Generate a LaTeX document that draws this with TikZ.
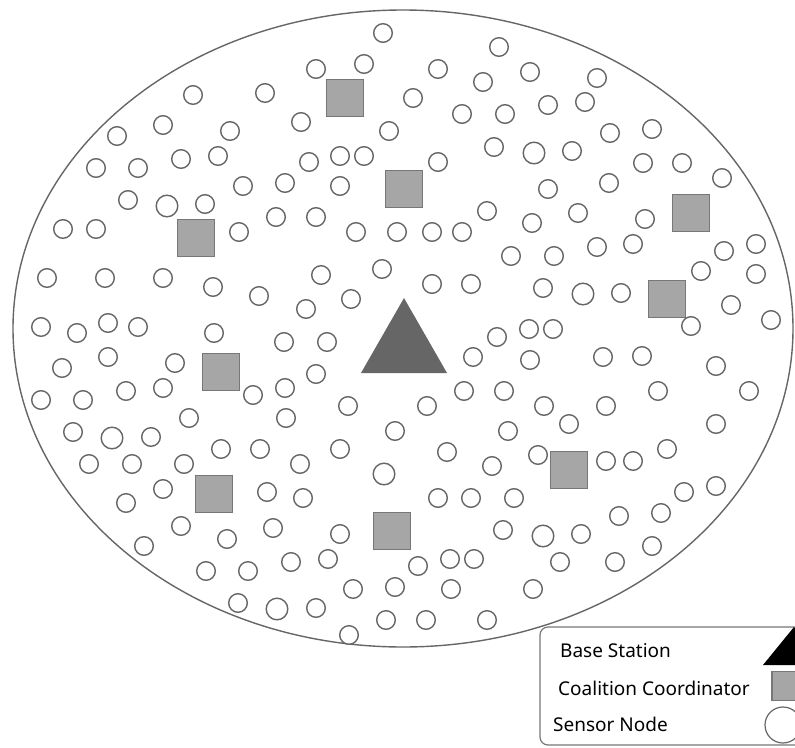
\documentclass[tikz,border=0pt]{standalone}
\usepackage{fontspec}
\setmainfont{Noto Sans}
\definecolor{edgegray}{HTML}{666666}
\definecolor{boxgray}{HTML}{A6A6A6}
\definecolor{boxedge}{HTML}{777777}
\tikzset{
  sensor/.style={circle,draw=edgegray,line width=1.4pt,fill=white,minimum size=18.6pt,inner sep=0pt},
  bigsensor/.style={sensor,minimum size=21.6pt},
  coordbox/.style={rectangle,draw=boxedge,line width=1.4pt,fill=boxgray,minimum size=37pt,inner sep=0pt},
  legendtext/.style={anchor=base west,inner sep=0pt,font=\fontsize{19}{22}\selectfont}
}
\begin{document}
\begin{tikzpicture}[x=1pt,y=-1pt]
\useasboundingbox (0,0) rectangle (795,747);
\clip (0,0) rectangle (795,747);
% field
\draw[edgegray,line width=1.4pt] (403,328.5) ellipse [x radius=390, y radius=318.5];
% sensor nodes
\foreach \px/\py [count=\i] in {193/95, 265/93, 163/125, 117/136, 230/131, 96/168, 138/168, 181/159, 218/156, 243/186, 128/200, 205/204, 63/229, 96/229, 239/232, 47/278, 105/278, 163/278, 213/287, 259/296, 41/327, 77/333, 108/323, 138/327, 214/333, 62/368, 108/357, 175/363, 41/400, 83/400, 126/391, 163/388, 253/395, 189/418, 73/432, 151/437, 221/449, 260/449, 89/464, 132/464, 184/464, 163/489, 126/503, 267/492, 181/526, 227/539, 144/546, 206/571, 248/571, 238/603, 291/562, 328/559, 418/566, 450/559, 474/559, 353/589, 395/587, 451/589, 533/589, 316/608, 386/620, 426/620, 487/620, 349/635, 560/562, 615/562, 285/388, 348/406, 427/406, 464/391, 504/391, 286/418, 395/431, 508/431, 340/449, 447/452, 300/464, 492/466, 303/498, 438/498, 471/498, 514/498, 273/528, 340/534, 503/530, 658/391, 749/391, 544/406, 606/406, 569/424, 716/424, 538/455, 667/449, 606/461, 633/461, 684/492, 716/486, 619/516, 661/513, 581/534, 652/546, 548/189, 609/183, 578/213, 532/223, 645/219, 597/247, 633/244, 554/256, 724/251, 756/244, 701/271, 756/274, 543/288, 621/293, 731/305, 771/320, 691/326, 529/329, 553/329, 530/360, 603/357, 642/356, 716/366, 276/217, 316/217, 356/232, 397/232, 432/232, 462/232, 487/211, 511/256, 382/269, 321/275, 432/284, 471/284, 351/299, 306/309, 497/337, 284/342, 327/342, 473/357, 316/374, 383/33, 499/47, 316/69, 364/64, 438/69, 483/82, 530/72, 413/98, 462/114, 505/114, 301/122, 389/131, 494/147, 309/162, 340/156, 364/156, 438/162, 285/183, 340/186, 597/78, 548/105, 585/102, 610/133, 652/129, 572/151, 643/163, 682/163, 722/178}
  \node[sensor] (s\i) at (\px,\py) {};
\foreach \px/\py [count=\i] in {167/206, 112/438, 384/474, 277/609, 534/153, 583/294, 543/536}
  \node[bigsensor] (b\i) at (\px,\py) {};
% coalition coordinators
\foreach \px/\py [count=\i] in {345/98, 404/189, 196/238, 221/372, 214/494, 392/531, 569/470, 691/213, 667/299}
  \node[coordbox] (c\i) at (\px,\py) {};
% base station
\fill[edgegray] (361,373) -- (404,298) -- (447,373) -- cycle;
\coordinate (bs) at (404,348);
% legend
\draw[boxedge,line width=1.2pt,rounded corners=8pt] (540,627) rectangle (840,745);
\node[legendtext] (l1) at (560,657) {Base Station};
\node[legendtext] (l2) at (558,695) {Coalition Coordinator};
\node[legendtext] (l3) at (553,731) {Sensor Node};
\fill[black] (763,665) -- (794,627) -- (825,665) -- cycle;
\node[rectangle,draw=boxedge,line width=1.2pt,fill=boxgray,minimum width=38pt,minimum height=29pt,inner sep=0pt] (lc) at (791,686) {};
\node[circle,draw=edgegray,line width=1.2pt,minimum size=36pt,inner sep=0pt] (ls) at (783,725) {};
\end{tikzpicture}
\end{document}
